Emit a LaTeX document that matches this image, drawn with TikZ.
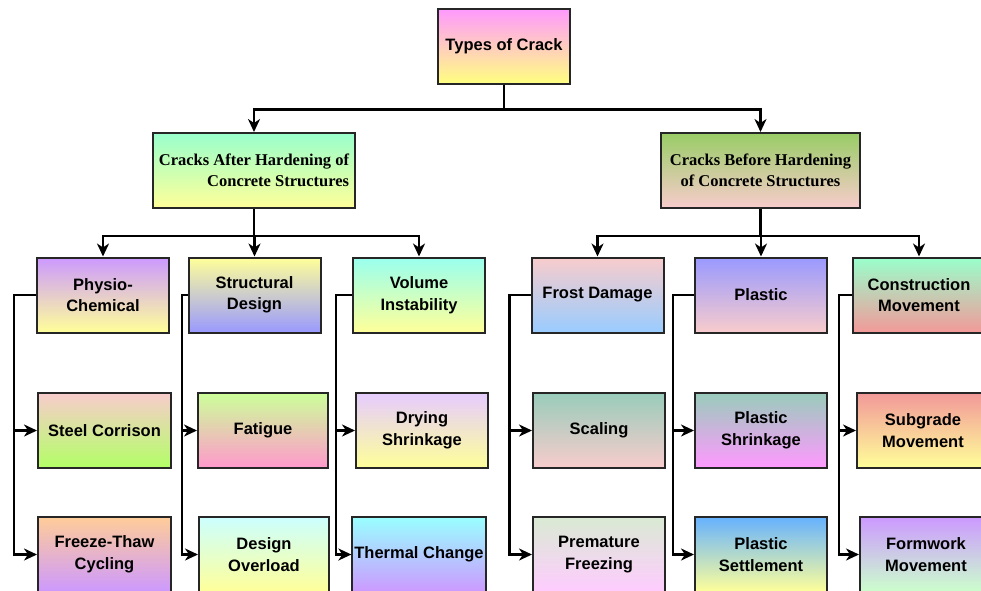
\documentclass[tikz,border=0pt]{standalone}
\usepackage{fontspec}
\setmainfont{Liberation Sans}
\newfontfamily\serifbold{Liberation Serif}
\usepackage{xcolor}
\usetikzlibrary{arrows.meta}

\definecolor{rosa}{HTML}{FF99FF}
\definecolor{amarelo}{HTML}{FFFF80}
\definecolor{amareloclaro}{HTML}{FFFF99}
\definecolor{agua}{HTML}{99FFCC}
\definecolor{verde}{HTML}{99CC66}
\definecolor{rosaclaro}{HTML}{F8CCCC}
\definecolor{lavanda}{HTML}{CC99FF}
\definecolor{pervinca}{HTML}{9999FF}
\definecolor{ciano}{HTML}{99FFEE}
\definecolor{azulclaro}{HTML}{99CCFF}
\definecolor{salmao}{HTML}{F29999}
\definecolor{verdelima}{HTML}{B3FF66}
\definecolor{verdeclaro}{HTML}{CCFF99}
\definecolor{rosachoque}{HTML}{FF99CC}
\definecolor{lilas}{HTML}{E5CCFF}
\definecolor{cinzaverde}{HTML}{99CCBB}
\definecolor{pessego}{HTML}{FFCC99}
\definecolor{cianoclaro}{HTML}{CCFFFF}
\definecolor{cianoforte}{HTML}{99FFFF}
\definecolor{salvia}{HTML}{D9EAD3}
\definecolor{rosalilas}{HTML}{FFCCFF}
\definecolor{azul}{HTML}{66B2FF}
\definecolor{mentaclara}{HTML}{CCFFCC}

\begin{document}
\begin{tikzpicture}[
    x=1pt, y=-1pt,
    tipo/.style={draw=black!85, line width=2pt, minimum width=132pt,
        minimum height=75pt, align=center, inner sep=2pt,
        font=\fontsize{16.5}{21.5}\selectfont\bfseries},
    grupo/.style={tipo, minimum width=200pt,
        font=\fontsize{16.5}{21.5}\selectfont\serifbold\bfseries},
    fluxo/.style={-{Stealth[length=13pt, width=12pt, inset=4pt]}, line width=2.2pt}
]
    \clip (0,0) rectangle (981,590);

    \node[tipo, top color=rosa, bottom color=amarelo] (types) at (504,46) {Types of Crack};
    \node[grupo, minimum width=202pt, align=right, top color=agua, bottom color=amareloclaro]
        (after) at (254,170.5) {Cracks After Hardening of\\Concrete Structures};
    \node[grupo, minimum width=199pt, top color=verde, bottom color=rosaclaro]
        (before) at (760.5,170.5) {Cracks Before Hardening\\of Concrete Structures};

    % grupo de cima
    \node[tipo, top color=lavanda, bottom color=amareloclaro] (physio) at (103,295) {Physio-\\Chemical};
    \node[tipo, top color=amareloclaro, bottom color=pervinca] (structural) at (254.5,295) {Structural\\Design};
    \node[tipo, top color=ciano, bottom color=amareloclaro] (volume) at (419,295) {Volume\\Instability};
    \node[tipo, top color=rosaclaro, bottom color=azulclaro] (frost) at (597.5,295) {Frost Damage};
    \node[tipo, top color=pervinca, bottom color=rosaclaro] (plastic) at (761,295) {Plastic};
    \node[tipo, top color=agua, bottom color=salmao] (construction) at (919,295) {Construction\\Movement};

    % segunda fila
    \node[tipo, minimum width=133pt, top color=rosaclaro, bottom color=verdelima] (steel) at (104.5,430.5) {Steel Corrison};
    \node[tipo, minimum width=130pt, top color=verdeclaro, bottom color=rosachoque] (fatigue) at (263,430.5) {Fatigue};
    \node[tipo, top color=lilas, bottom color=amareloclaro] (drying) at (422,430.5) {Drying\\Shrinkage};
    \node[tipo, top color=cinzaverde, bottom color=rosaclaro] (scaling) at (599,430.5) {Scaling};
    \node[tipo, top color=cinzaverde, bottom color=rosa] (plshrink) at (761,430.5) {Plastic\\Shrinkage};
    \node[tipo, top color=salmao, bottom color=amareloclaro] (subgrade) at (923,430.5) {Subgrade\\Movement};

    % terceira fila
    \node[tipo, minimum width=133pt, top color=pessego, bottom color=lavanda] (freeze) at (104.5,554.5) {Freeze-Thaw\\Cycling};
    \node[tipo, minimum width=130pt, top color=cianoclaro, bottom color=amareloclaro] (overload) at (264,554.5) {Design\\Overload};
    \node[tipo, top color=cianoforte, bottom color=lavanda] (thermal) at (419,554.5) {Thermal Change};
    \node[tipo, top color=salvia, bottom color=rosalilas] (premature) at (599,554.5) {Premature\\Freezing};
    \node[tipo, top color=azul, bottom color=amareloclaro] (settlement) at (761,554.5) {Plastic\\Settlement};
    \node[tipo, top color=lavanda, bottom color=mentaclara] (formwork) at (926,554.5) {Formwork\\Movement};

    \draw[fluxo] (types.south) -- ++(0,25) -| (after.north);
    \draw[fluxo] (types.south) -- ++(0,25) -| (before.north);

    \draw[fluxo] (after.south) -- ++(0,27) -| (physio.north);
    \draw[fluxo] (after.south) -- ++(0,27) -| (structural.north);
    \draw[fluxo] (after.south) -- ++(0,27) -| (volume.north);
    \draw[fluxo] (before.south) -- ++(0,27) -| (frost.north);
    \draw[fluxo] (before.south) -- ++(0,27) -| (plastic.north);
    \draw[fluxo] (before.south) -- ++(0,27) -| (construction.north);

    \draw[fluxo] (physio.west) -- ++(-22,0) |- (steel.west);
    \draw[fluxo] (physio.west) -- ++(-22,0) |- (freeze.west);
    \draw[fluxo] (structural.west) -- ++(-5.5,0) |- (fatigue.west);
    \draw[fluxo] (structural.west) -- ++(-5.5,0) |- (overload.west);
    \draw[fluxo] (volume.west) -- ++(-16,0) |- (drying.west);
    \draw[fluxo] (volume.west) -- ++(-16,0) |- (thermal.west);
    \draw[fluxo] (frost.west) -- ++(-21,0) |- (scaling.west);
    \draw[fluxo] (frost.west) -- ++(-21,0) |- (premature.west);
    \draw[fluxo] (plastic.west) -- ++(-21,0) |- (plshrink.west);
    \draw[fluxo] (plastic.west) -- ++(-21,0) |- (settlement.west);
    \draw[fluxo] (construction.west) -- ++(-13,0) |- (subgrade.west);
    \draw[fluxo] (construction.west) -- ++(-13,0) |- (formwork.west);
\end{tikzpicture}
\end{document}
